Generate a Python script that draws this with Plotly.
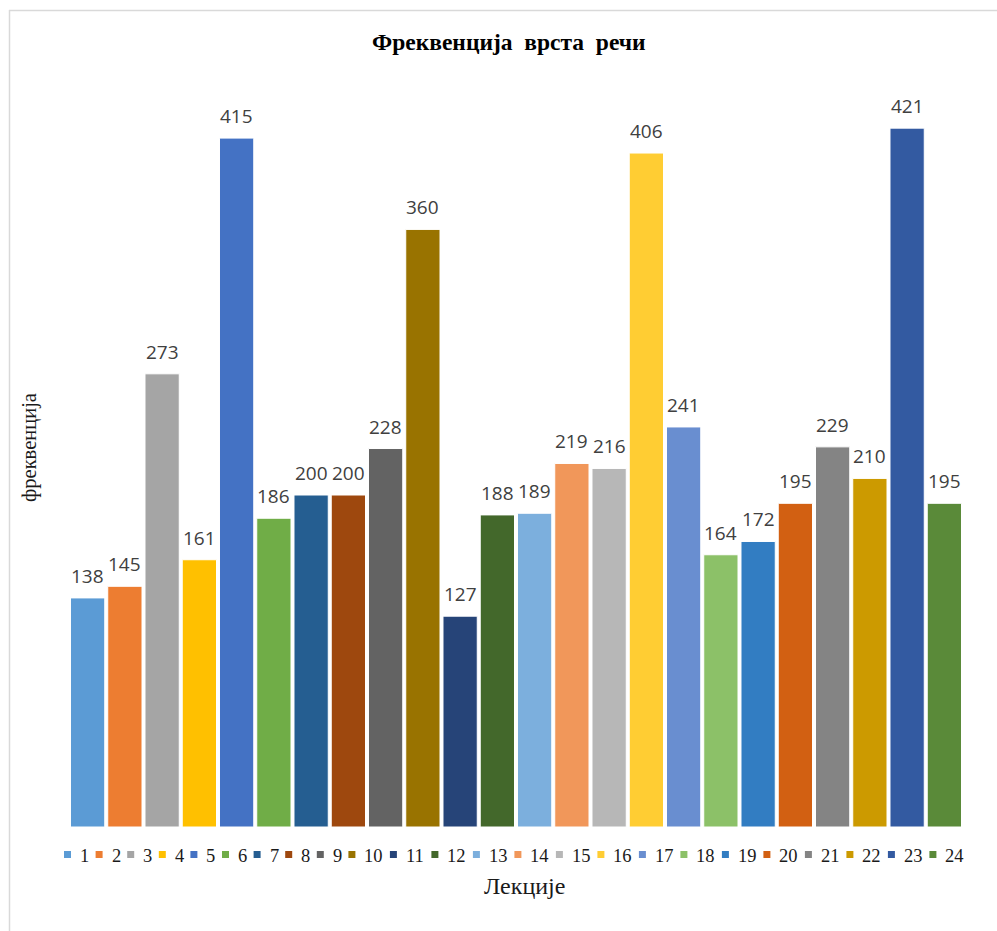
import plotly.graph_objects as go

# Lesson numbers and word-type frequency per lesson
lessons = list(range(1, 25))
frequencies = [138, 145, 273, 161, 415, 186, 200, 200, 228, 360, 127, 188,
               189, 219, 216, 406, 241, 164, 172, 195, 229, 210, 421, 195]
colors = ["#5B9BD5", "#ED7D31", "#A5A5A5", "#FFC000", "#4472C4", "#70AD47",
          "#255E91", "#9E480E", "#636363", "#997300", "#264478", "#43682B",
          "#7CAFDD", "#F1975A", "#B7B7B7", "#FFCD33", "#698ED0", "#8CC168",
          "#327DC2", "#D26012", "#848484", "#CC9A00", "#335AA1", "#5A8A39"]

W, H = 997, 931
L, R, T, B = 69, 34, 80, 104
PW, PH = W - L - R, H - T - B


def px(x):
    return (x - L) / PW


def py(y):
    return 1 - (y - T) / PH


fig = go.Figure()
annotations = []
for lesson, val, col in zip(lessons, frequencies, colors):
    fig.add_trace(go.Bar(
        x=[lesson], y=[val], name=str(lesson), width=0.92,
        marker=dict(color=col, line=dict(color="white", width=1)),
        showlegend=False,
    ))
    # value label above each bar
    annotations.append(dict(x=lesson, y=val, xref="x", yref="y",
                            text=str(val), showarrow=False,
                            xanchor="center", yanchor="middle", yshift=22,
                            font=dict(family="Open Sans", size=19, color="#404040")))

# Legend row: small colour squares followed by the lesson number
shapes = []
x = 64.0
for lesson, col in zip(lessons, colors):
    shapes.append(dict(type="rect", xref="paper", yref="paper",
                       x0=px(x), x1=px(x + 7), y0=py(858), y1=py(851),
                       fillcolor=col, line=dict(width=0)))
    annotations.append(dict(xref="paper", yref="paper", x=px(x + 14), y=py(855.5),
                            text=str(lesson), showarrow=False, xanchor="left",
                            yanchor="middle",
                            font=dict(family="Liberation Serif", size=18.5, color="#1a1a1a")))
    x += 31.6 if lesson < 10 else 41.5

# Outer frame (top and left edges)
shapes.append(dict(type="line", xref="paper", yref="paper",
                   x0=px(9), x1=px(997), y0=py(10.5), y1=py(10.5),
                   line=dict(color="#D9D9D9", width=1.5)))
shapes.append(dict(type="line", xref="paper", yref="paper",
                   x0=px(9.5), x1=px(9.5), y0=py(10), y1=py(931),
                   line=dict(color="#D9D9D9", width=1.5)))

annotations.append(dict(xref="paper", yref="paper", x=px(509), y=py(42),
                        text="<b>Фреквенција  врста  речи</b>", showarrow=False,
                        xanchor="center", yanchor="middle",
                        font=dict(family="Liberation Serif", size=23.5, color="#000000")))
annotations.append(dict(xref="paper", yref="paper", x=px(524), y=py(886),
                        text="Лекције", showarrow=False,
                        xanchor="center", yanchor="middle",
                        font=dict(family="Liberation Serif", size=24, color="#1a1a1a")))
annotations.append(dict(xref="paper", yref="paper", x=px(29), y=py(448),
                        text="фреквенција", showarrow=False, textangle=-90,
                        xanchor="center", yanchor="middle",
                        font=dict(family="Liberation Serif", size=20.5, color="#1a1a1a")))

fig.update_layout(
    width=W, height=H,
    margin=dict(l=L, r=R, t=T, b=B),
    paper_bgcolor="white", plot_bgcolor="white",
    barmode="overlay",
    showlegend=False,
    shapes=shapes, annotations=annotations,
    xaxis=dict(range=[0.5, 24.5], showticklabels=False, showgrid=False,
               zeroline=False, showline=False, ticks=""),
    yaxis=dict(range=[0, 450], showticklabels=False, showgrid=False,
               zeroline=False, showline=False, ticks=""),
)

fig.write_html("out.html")
